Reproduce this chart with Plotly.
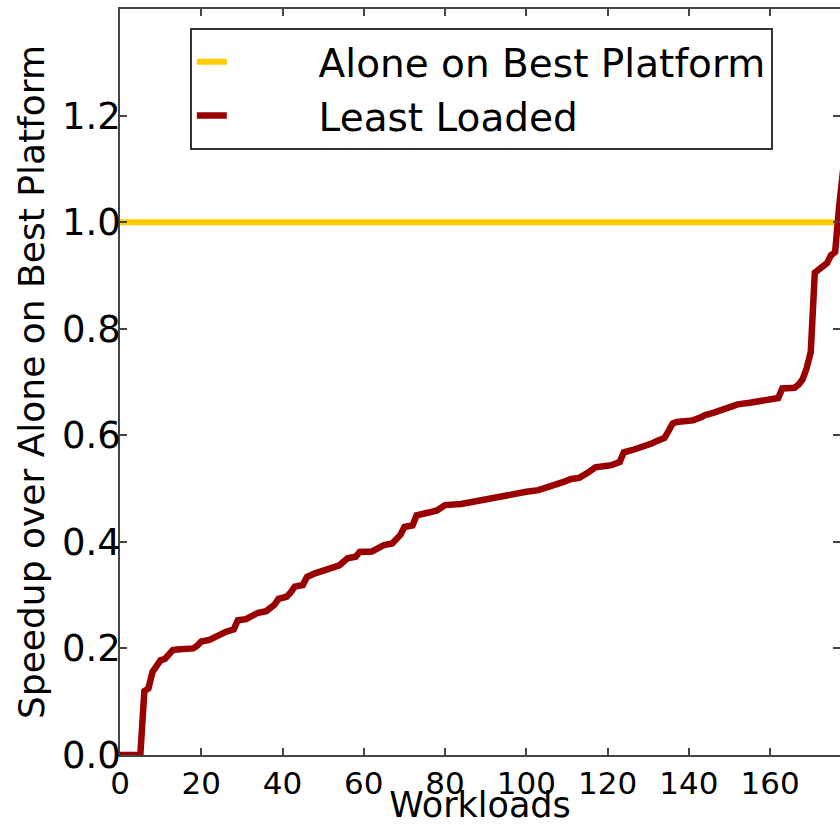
import plotly.graph_objects as go

# Workload index (sorted) and speedup of "Least Loaded" over "Alone on Best Platform"
workloads = [0, 5, 6, 7, 8, 9, 10, 11, 12, 13, 14, 18, 19, 20, 22, 23, 25, 26, 28, 29,
             31, 33, 34, 36, 37, 38, 39, 41, 42, 43, 45, 46, 48, 50, 51, 53, 54, 56, 58, 59,
             62, 64, 65, 67, 68, 69, 70, 72, 73, 75, 76, 78, 80, 84, 86, 88, 91, 93, 96, 98,
             100, 103, 106, 108, 109, 111, 113, 115, 117, 119, 121, 123, 124, 126, 129, 131, 132, 134, 135, 136,
             137, 141, 143, 144, 146, 148, 150, 152, 155, 159, 162, 163, 166, 167, 168, 169, 170, 171, 172, 173,
             174, 175, 176, 177, 178]
least_loaded = [0.0, 0.0, 0.12, 0.125, 0.156, 0.165, 0.178, 0.18, 0.19, 0.197, 0.198, 0.2, 0.205, 0.213, 0.216, 0.22, 0.225, 0.231, 0.236, 0.253,
                0.255, 0.262, 0.267, 0.27, 0.275, 0.282, 0.293, 0.297, 0.305, 0.316, 0.319, 0.334, 0.341, 0.345, 0.349, 0.351, 0.356, 0.369, 0.372, 0.381,
                0.382, 0.39, 0.394, 0.397, 0.405, 0.413, 0.428, 0.431, 0.45, 0.452, 0.455, 0.459, 0.469, 0.471, 0.474, 0.478, 0.481, 0.484, 0.487, 0.49,
                0.494, 0.497, 0.503, 0.507, 0.512, 0.518, 0.52, 0.529, 0.54, 0.542, 0.544, 0.55, 0.568, 0.572, 0.578, 0.585, 0.589, 0.595, 0.608, 0.622,
                0.625, 0.628, 0.634, 0.638, 0.642, 0.647, 0.651, 0.658, 0.661, 0.666, 0.67, 0.688, 0.689, 0.695, 0.705, 0.726, 0.756, 0.905, 0.91, 0.918,
                0.923, 0.938, 0.944, 1.03, 1.10]
baseline_x = [0, 178]
baseline_y = [1.0, 1.0]

x_ticks = [0, 20, 40, 60, 80, 100, 120, 140, 160]
y_ticks = [0.0, 0.2, 0.4, 0.6, 0.8, 1.0, 1.2]

YELLOW = "#FFCC00"
RED = "#990000"
AXIS = "#444444"
FONT = "DejaVu Sans"
PAD = "\u00a0" * 7

fig = go.Figure()
fig.add_trace(go.Scatter(x=baseline_x, y=baseline_y, mode="lines",
                         name=PAD + "Alone on Best Platform",
                         line=dict(color=YELLOW, width=6)))
fig.add_trace(go.Scatter(x=workloads, y=least_loaded, mode="lines",
                         name=PAD + "Least Loaded",
                         line=dict(color=RED, width=6.5)))

fig.update_layout(
    width=840, height=825,
    margin=dict(l=120, r=0, t=9, b=70),
    paper_bgcolor="white", plot_bgcolor="white",
    font=dict(family=FONT, color="black"),
    showlegend=True,
    legend=dict(x=0.097, y=0.9745, xanchor="left", yanchor="top",
                bgcolor="white", bordercolor="#333333", borderwidth=2,
                font=dict(size=39, family=FONT),
                traceorder="normal"),
)
fig.update_xaxes(range=[0, 177.2], tickvals=x_ticks, ticks="inside", ticklen=7,
                 tickwidth=1.5, tickcolor=AXIS, showline=True, linecolor=AXIS,
                 linewidth=1.5, mirror="ticks", showgrid=False, zeroline=False,
                 automargin=False,
                 tickfont=dict(size=31, family=FONT),
                 title=dict(text="Workloads", font=dict(size=35, family=FONT), standoff=8))
fig.update_yaxes(range=[0, 1.4], tickvals=y_ticks, tickformat=".1f", ticks="inside",
                 ticklen=7, tickwidth=1.5, tickcolor=AXIS, showline=True,
                 linecolor=AXIS, linewidth=1.5, mirror="ticks", showgrid=False,
                 zeroline=False, automargin=False,
                 tickfont=dict(size=37, family=FONT),
                 ticklabelstandoff=-10,
                 title=dict(text="Speedup over Alone on Best Platform",
                            font=dict(size=36, family=FONT), standoff=6))

fig.write_html("out.html")
